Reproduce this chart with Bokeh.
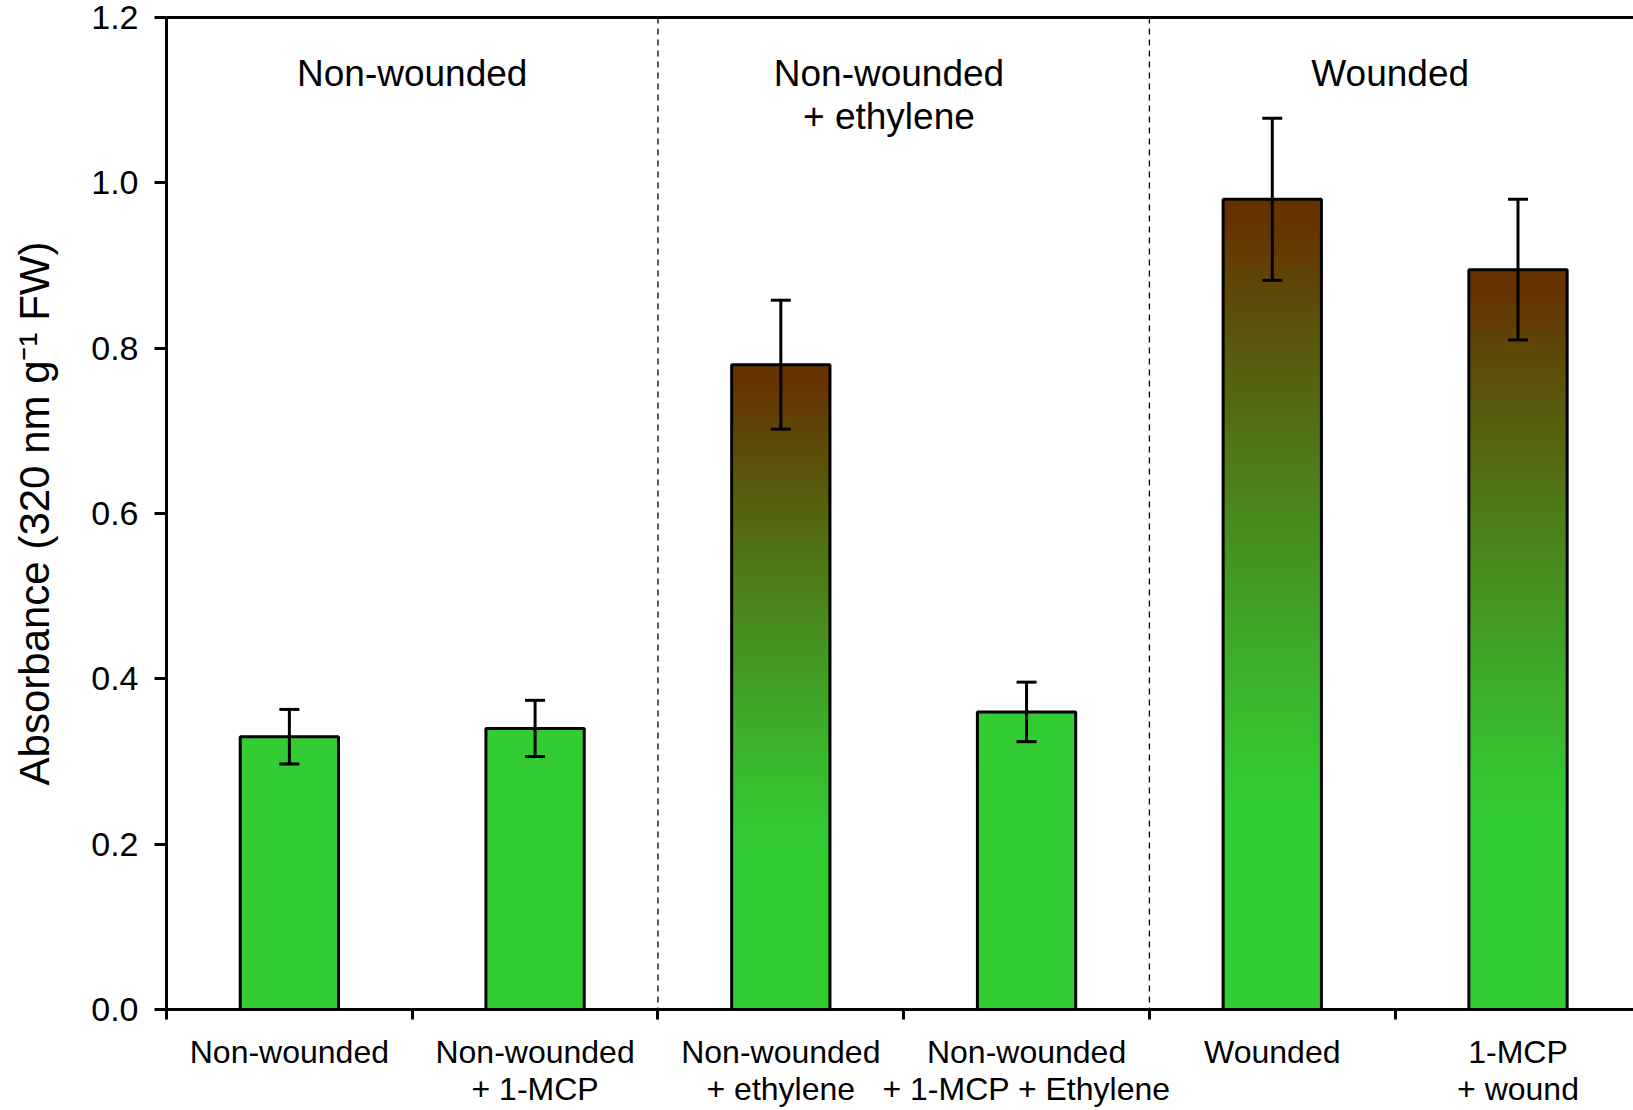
from bokeh.plotting import figure
from bokeh.models import (Range1d, FixedTicker, LinearAxis, Whisker, TeeHead,
                          ColumnDataSource, Span, NumeralTickFormatter)
from bokeh.embed import file_html
from bokeh.resources import INLINE
from bokeh.core.properties import value

# ---------------- data ----------------
categories = ["Non-wounded", "Non-wounded\n+ 1-MCP", "Non-wounded\n+ ethylene",
              "Non-wounded\n+ 1-MCP + Ethylene", "Wounded", "1-MCP\n+ wound"]
means = [0.33, 0.34, 0.78, 0.36, 0.98, 0.895]
errors = [0.033, 0.034, 0.078, 0.036, 0.098, 0.085]
browned = [False, False, True, False, True, True]
group_labels = ["Non-wounded", "Non-wounded\n+ ethylene", "Wounded"]
y_ticks = [0.0, 0.2, 0.4, 0.6, 0.8, 1.0, 1.2]
y_label = "Absorbance (320 nm g\u207b\u00b9 FW)"

# ---------------- styling ----------------
FONT = "Liberation Sans"
GREEN = (0x33, 0xCC, 0x33)
BROWN = (0x66, 0x33, 0x00)
BAR_W = 0.4
group_x = [1.0, 2.94, 4.98]
divider_x = [2, 4]

def hexc(c):
    return "#%02x%02x%02x" % tuple(int(round(v)) for v in c)

def grad_color(f, start=0.25):
    if f <= start:
        return hexc(GREEN)
    t = min(1.0, ((f - start) / (0.97 - start)) ** 1.2)
    return hexc(tuple(g + t * (b - g) for g, b in zip(GREEN, BROWN)))

xs = [i + 0.5 for i in range(len(categories))]

p = figure(width=1633, height=1110, x_range=Range1d(0, 5.97), y_range=Range1d(0, 1.2),
           output_backend="svg", toolbar_location=None,
           min_border_left=166, min_border_right=0, min_border_top=17, min_border_bottom=95)
p.outline_line_color = None
p.xgrid.visible = False
p.ygrid.visible = False
p.background_fill_color = "white"

# bars: solid ones
solid = [i for i, b in enumerate(browned) if not b]
p.vbar(x=[xs[i] for i in solid], top=[means[i] for i in solid], width=BAR_W, bottom=0,
       fill_color=hexc(GREEN), line_color="black", line_width=3)

# gradient bars (sliced)
N = 120
qx0, qx1, qb, qt, qc = [], [], [], [], []
for i, b in enumerate(browned):
    if not b:
        continue
    v = means[i]
    for k in range(N):
        y0 = v * k / N
        y1 = v * (k + 1) / N
        qx0.append(xs[i] - BAR_W / 2)
        qx1.append(xs[i] + BAR_W / 2)
        qb.append(y0)
        qt.append(y1 + v / N * 0.3 if k < N - 1 else y1)
        qc.append(grad_color((k + 0.5) / N))
p.quad(left=qx0, right=qx1, bottom=qb, top=qt, fill_color=qc, line_color=None)
gi = [i for i, b in enumerate(browned) if b]
p.vbar(x=[xs[i] for i in gi], top=[means[i] for i in gi], width=BAR_W, bottom=0,
       fill_color=None, line_color="black", line_width=3)

# error bars
src = ColumnDataSource(dict(x=xs, upper=[m + e for m, e in zip(means, errors)],
                            lower=[m - e for m, e in zip(means, errors)]))
p.add_layout(Whisker(source=src, base="x", upper="upper", lower="lower", level="overlay",
                     line_width=3, line_color="black",
                     upper_head=TeeHead(size=20, line_width=3, line_color="black"),
                     lower_head=TeeHead(size=20, line_width=3, line_color="black")))

# dividers
for dx in divider_x:
    p.add_layout(Span(location=dx, dimension="height", line_color="black",
                      line_width=1.3, line_dash="6 5"))

# group labels
p.text(x=group_x, y=[1.157] * 3, text=group_labels, text_font=value(FONT),
       text_font_size="37px", text_align="center", text_baseline="top",
       text_line_height=1.05, text_color="black")

# x axis
xa = p.xaxis[0]
xa.ticker = FixedTicker(ticks=xs, minor_ticks=[0, 1, 2, 3, 4, 5, 6])
xa.major_label_overrides = {x: c for x, c in zip(xs, categories)}
xa.major_tick_out = 0
xa.major_tick_in = 0
xa.minor_tick_out = 10
xa.minor_tick_in = 0
xa.minor_tick_line_width = 3
xa.minor_tick_line_color = "black"
xa.axis_line_width = 3
xa.axis_line_color = "black"
xa.major_label_text_font = FONT
xa.major_label_text_font_size = "32px"
xa.major_label_text_color = "black"
xa.major_label_text_line_height = 1.05
xa.major_label_standoff = 14

# y axis
ya = p.yaxis[0]
ya.ticker = FixedTicker(ticks=y_ticks, minor_ticks=[])
ya.formatter = NumeralTickFormatter(format="0.0")
ya.major_tick_out = 12
ya.major_tick_in = 0
ya.major_tick_line_width = 3
ya.axis_line_width = 3
ya.axis_line_color = "black"
ya.major_tick_line_color = "black"
ya.major_label_text_font = FONT
ya.major_label_text_font_size = "34px"
ya.major_label_text_color = "black"
ya.major_label_standoff = 16
ya.axis_label = y_label
ya.axis_label_text_font = FONT
ya.axis_label_text_font_size = "42px"
ya.axis_label_text_font_style = "normal"
ya.axis_label_text_color = "black"
ya.axis_label_standoff = 30

# top frame line
top = LinearAxis(ticker=FixedTicker(ticks=[], minor_ticks=[]), axis_line_width=3,
                 axis_line_color="black", major_tick_out=0, major_tick_in=0,
                 minor_tick_out=0, minor_tick_in=0, major_label_text_font_size="0px")
p.add_layout(top, "above")

open("out.html", "w").write(file_html(p, INLINE))
